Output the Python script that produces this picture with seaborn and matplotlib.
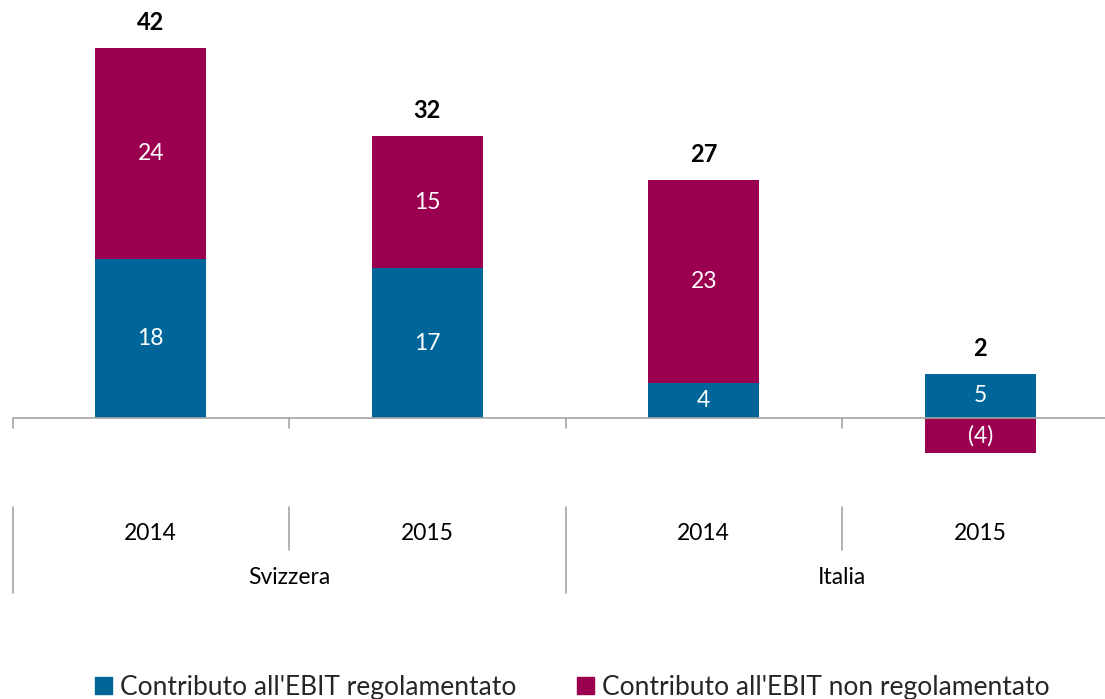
import numpy as np
import pandas as pd
import matplotlib
matplotlib.use("Agg")
import matplotlib.pyplot as plt
from matplotlib.patches import Patch
import seaborn as sns

# dati
gruppi = ["Svizzera", "Svizzera", "Italia", "Italia"]
anni = ["2014", "2015", "2014", "2015"]
regolamentato = [18, 17, 4, 5]
non_regolamentato = [24, 15, 23, -4]
totale = [42, 32, 27, 2]

BLU = "#006699"
MAGENTA = "#9B0050"
GRIGIO = "#A6A6A6"

sns.set_theme(style="white")
plt.rcParams["font.family"] = ["Lato", "DejaVu Sans"]

df = pd.DataFrame({
    "pos": [g + " " + a for g, a in zip(gruppi, anni)],
    "reg": regolamentato,
    "nonreg": non_regolamentato,
})
# cima della barra magenta (impilata sopra il blu se positiva)
df["cum"] = np.where(df["nonreg"] > 0, df["reg"] + df["nonreg"], df["nonreg"])

fig = plt.figure(figsize=(11.05, 6.99), dpi=100)
px = 370 / 42  # pixel per unità
ax = fig.add_axes([12.5 / 1105, 0, 1106 / 1105, 1])

sns.barplot(data=df, x="pos", y="cum", color=MAGENTA, width=0.4,
            saturation=1, linewidth=0, ax=ax, zorder=2)
sns.barplot(data=df, x="pos", y="reg", color=BLU, width=0.4,
            saturation=1, linewidth=0, ax=ax, zorder=3)
ax.set_xlim(-0.5, 3.5)
ax.set_ylim(-281 / px, 418 / px)

for s in ax.spines.values():
    s.set_visible(False)
ax.set_xticks([])
ax.set_yticks([])
ax.set_xlabel("")
ax.set_ylabel("")

# linea dello zero e tacche
ax.axhline(0, color=GRIGIO, lw=1.2, zorder=4)
for xb in [-0.5, 0.5, 1.5, 2.5, 3.5]:
    ax.plot([xb, xb], [0, -10 / px], color=GRIGIO, lw=1.2, clip_on=False)
# separatori delle etichette
y1, y2, y3 = -89 / px, -132 / px, -175 / px
for xb in [0.5, 2.5]:
    ax.plot([xb, xb], [y1, y2], color=GRIGIO, lw=1.2, clip_on=False)
for xb in [-0.5, 1.5, 3.5]:
    ax.plot([xb, xb], [y1, y3], color=GRIGIO, lw=1.2, clip_on=False)

for i, a in enumerate(anni):
    ax.text(i, -115 / px, a, ha="center", va="center", fontsize=16.5, color="black")
for i, g in [(0.5, "Svizzera"), (2.5, "Italia")]:
    ax.text(i, -159 / px, g, ha="center", va="center", fontsize=16.5, color="black")

# etichette dei valori
for i in range(4):
    r = regolamentato[i]
    n = non_regolamentato[i]
    ax.text(i, r / 2, str(r), ha="center", va="center", color="white",
            fontsize=16.5, zorder=5)
    if n > 0:
        ax.text(i, r + n / 2, str(n), ha="center", va="center", color="white",
                fontsize=16.5, zorder=5)
    else:
        ax.text(i, n / 2, "(%d)" % abs(n), ha="center", va="center",
                color="white", fontsize=16.5, zorder=5)
    top = max(r + max(n, 0), r)
    ax.annotate(str(totale[i]), (i, top), xytext=(0, 14), textcoords="offset pixels",
                ha="center", va="bottom", fontsize=17, fontweight="bold", color="black")

handles = [Patch(color=BLU, label="Contributo all'EBIT regolamentato"),
           Patch(color=MAGENTA, label="Contributo all'EBIT non regolamentato")]
fig.legend(handles=handles, loc="center", bbox_to_anchor=(0.5176, 0.017), ncol=2,
           frameon=False, fontsize=19, handlelength=0.65, handleheight=0.65,
           handletextpad=0.3, columnspacing=2.3)

fig.savefig("out.png", dpi=100)
